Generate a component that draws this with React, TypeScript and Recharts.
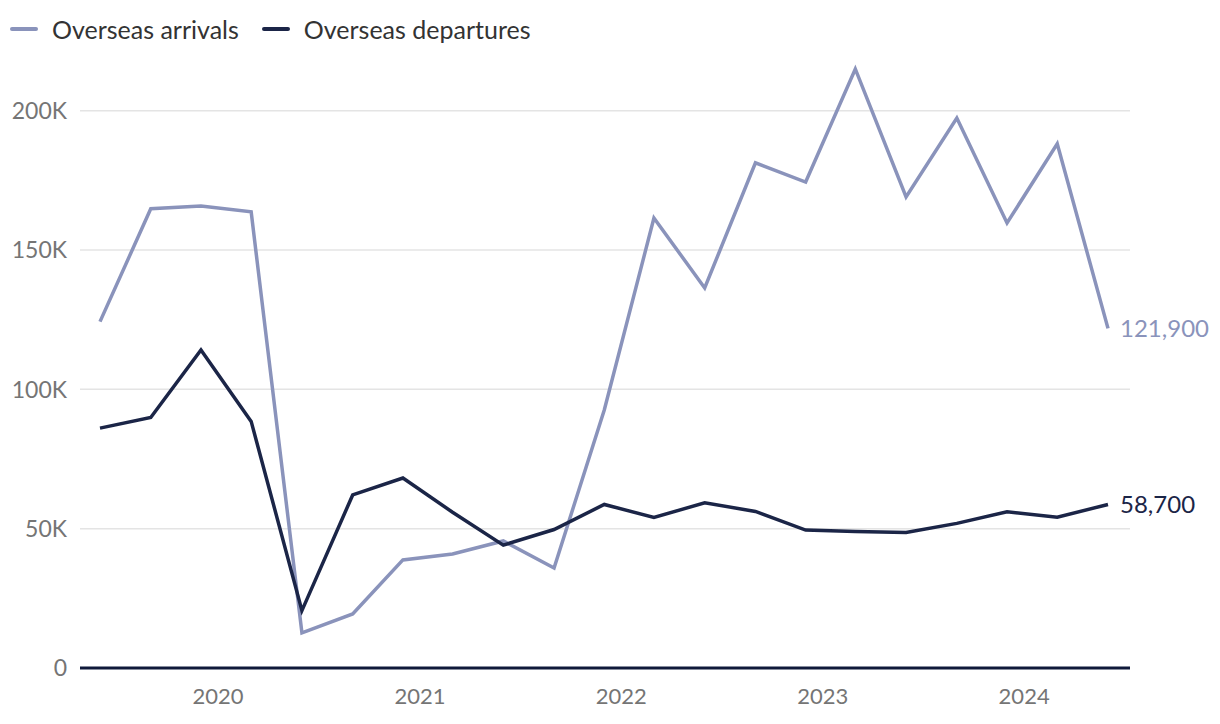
import { CartesianGrid, Legend, Line, LineChart, XAxis, YAxis } from "recharts"

// quarterly periods (first day of the quarter's last month)
const periods = [
    "2019-06", "2019-09", "2019-12",
    "2020-03", "2020-06", "2020-09", "2020-12",
    "2021-03", "2021-06", "2021-09", "2021-12",
    "2022-03", "2022-06", "2022-09", "2022-12",
    "2023-03", "2023-06", "2023-09", "2023-12",
    "2024-03", "2024-06",
]
const arrivals = [
    124300, 164800, 165800, 163700, 12600, 19400, 38800, 40900, 45600, 35900, 92600,
    161500, 136400, 181300, 174400, 215000, 169100, 197400, 159700, 188100, 121900,
]
const departures = [
    86100, 89900, 114100, 88500, 20600, 62100, 68200, 55900, 44100, 49700, 58700,
    54000, 59300, 56200, 49500, 49000, 48600, 51900, 56100, 54100, 58700,
]
const yearTicks = [2020, 2021, 2022, 2023, 2024]
const valueTicks = [0, 50000, 100000, 150000, 200000]

const ARRIVALS = "#8a93bb"
const DEPARTURES = "#1b2547"
const FONT = "Lato, 'Noto Sans', sans-serif"

const toTime = (p: string) => {
    const [y, m] = p.split("-").map(Number)
    return Date.UTC(y, m - 1, 1)
}

const data = periods.map((p, i) => ({
    t: toTime(p),
    arrivals: arrivals[i],
    departures: departures[i],
}))

const fmtK = (v: number) => (v === 0 ? "0" : `${v / 1000}K`)
const fmtYear = (t: number) => String(new Date(t).getUTCFullYear())

const endLabel = (color: string) => (props: any) => {
    const { x, y, index, value } = props
    if (index !== data.length - 1) return null
    return (
        <text x={x + 12} y={y} dy="0.35em" fill={color} fontSize={24} fontFamily={FONT}>
            {Number(value).toLocaleString("en-US")}
        </text>
    )
}

const LegendContent = () => (
    <div style={{ display: "flex", alignItems: "center", height: 36, fontFamily: FONT, fontSize: 25, color: "#333" }}>
        {[
            { name: "Overseas arrivals", color: ARRIVALS },
            { name: "Overseas departures", color: DEPARTURES },
        ].map((item) => (
            <div key={item.name} style={{ display: "flex", alignItems: "center", marginRight: 23 }}>
                <span style={{ display: "inline-block", width: 28, height: 4, borderRadius: 2, background: item.color, marginRight: 14 }} />
                <span>{item.name}</span>
            </div>
        ))}
    </div>
)

const App = () => {
    return (
        <div style={{ position: "absolute", left: 0, top: 0, background: "#fff" }}>
            <LineChart width={1220} height={724} data={data} margin={{ top: 19, right: 90, bottom: 0, left: 0 }}>
                <Legend
                    verticalAlign="top"
                    align="left"
                    content={<LegendContent />}
                    wrapperStyle={{ top: 11, left: 10 }}
                />
                <CartesianGrid
                    vertical={false}
                    horizontalValues={valueTicks}
                    stroke="#e4e4e4"
                    strokeWidth={1.5}
                />
                <XAxis
                    dataKey="t"
                    type="number"
                    scale="time"
                    domain={["dataMin", "dataMax"]}
                    padding={{ left: 20, right: 22 }}
                    ticks={yearTicks.map((y) => Date.UTC(y, 0, 1))}
                    tickFormatter={fmtYear}
                    tickLine={false}
                    tickSize={0}
                    tickMargin={20}
                    height={56}
                    axisLine={{ stroke: "#0f1a3a", strokeWidth: 3 }}
                    tick={{ fill: "#757575", fontSize: 22, fontFamily: FONT }}
                />
                <YAxis
                    domain={[0, 220000]}
                    ticks={valueTicks}
                    tickFormatter={fmtK}
                    axisLine={false}
                    tickLine={false}
                    tickSize={0}
                    tickMargin={13}
                    width={80}
                    tick={{ fill: "#757575", fontSize: 23, fontFamily: FONT }}
                />
                <Line
                    type="linear"
                    dataKey="arrivals"
                    name="Overseas arrivals"
                    stroke={ARRIVALS}
                    strokeWidth={3.5}
                    dot={false}
                    label={endLabel(ARRIVALS)}
                    isAnimationActive={false}
                />
                <Line
                    type="linear"
                    dataKey="departures"
                    name="Overseas departures"
                    stroke={DEPARTURES}
                    strokeWidth={3.5}
                    dot={false}
                    label={endLabel(DEPARTURES)}
                    isAnimationActive={false}
                />
            </LineChart>
        </div>
    )
}

export default App
